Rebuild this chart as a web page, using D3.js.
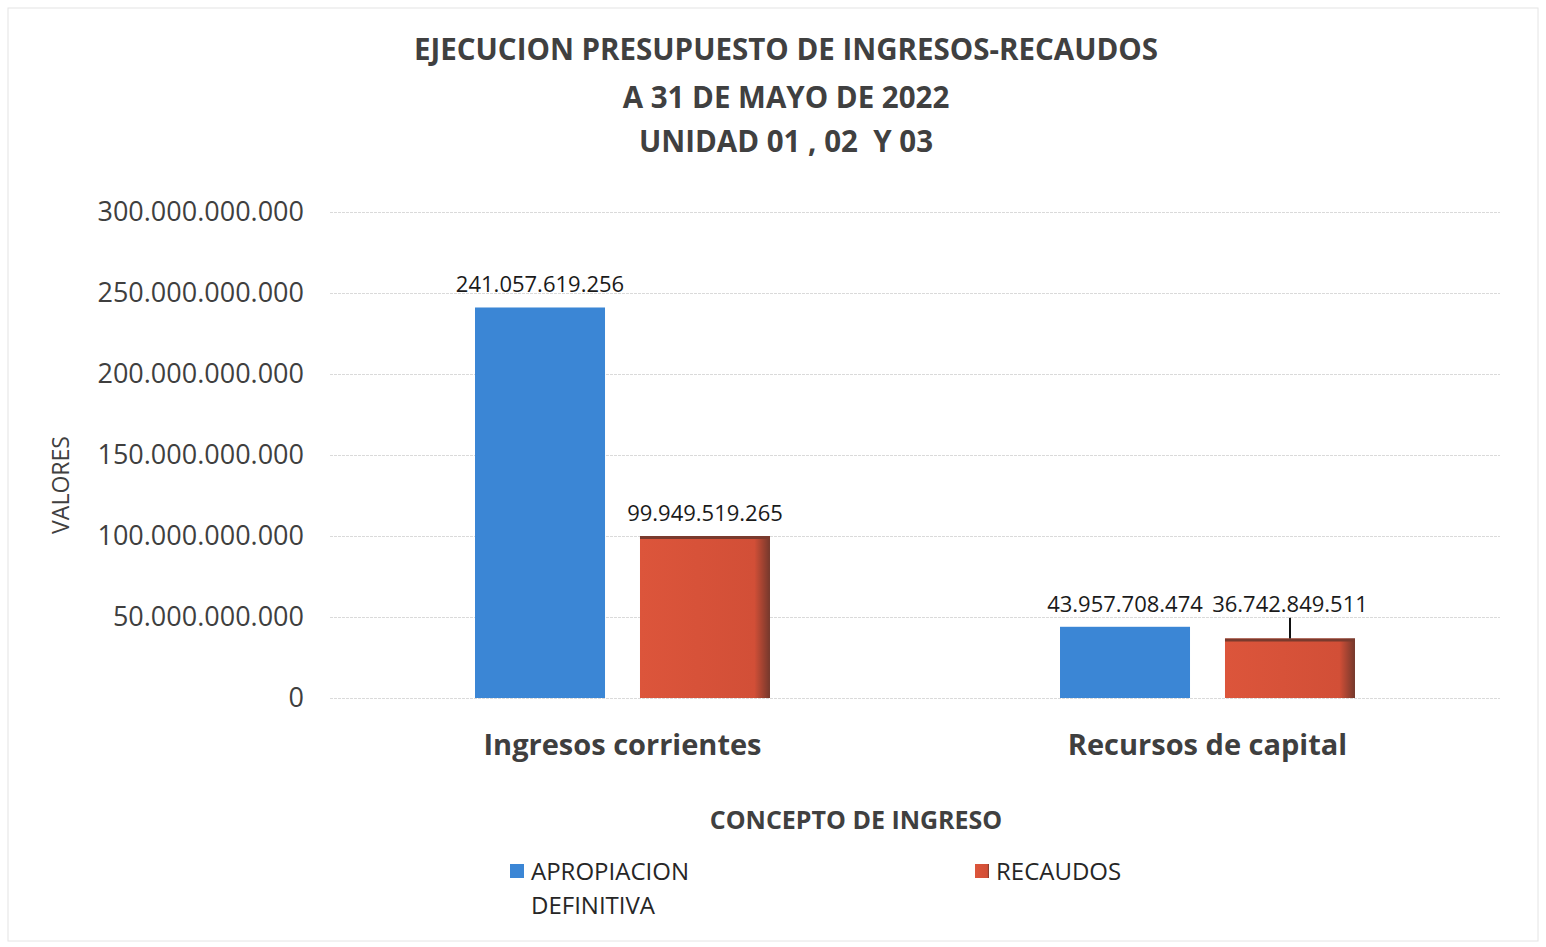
<!DOCTYPE html>
<html lang="es">
<head>
    <meta charset="UTF-8">
    <title>Ejecucion presupuesto</title>
    <script src="https://d3js.org/d3.v7.min.js"></script>
    <style>
        body { margin: 0; background: #fff; }
        text { font-family: "Open Sans", "Noto Sans", sans-serif; }
    </style>
</head>
<body>
    <svg width="1546" height="947"></svg>
    <script>
        // chart data
        const categories = ["Ingresos corrientes", "Recursos de capital"];
        const seriesNames = ["APROPIACION DEFINITIVA", "RECAUDOS"];
        const apropiacion = [241057619256, 43957708474];
        const recaudos = [99949519265, 36742849511];
        const yTicks = [0, 50e9, 100e9, 150e9, 200e9, 250e9, 300e9];
        const titleLines = ["EJECUCION PRESUPUESTO DE INGRESOS-RECAUDOS", "A 31 DE MAYO DE 2022", "UNIDAD 01 , 02  Y 03"];

        const colors = ["#3b86d5", "#d8513a"];
        const width = 1546, height = 947;
        const margin = {top: 212, right: 46, bottom: 249, left: 330};

        const svg = d3.select("svg");

        // outer frame
        svg.append("rect")
            .attr("x", 8).attr("y", 8)
            .attr("width", width - 16).attr("height", height - 14)
            .attr("fill", "none").attr("stroke", "#e4e4e4");

        const es = d3.formatLocale({decimal: ",", thousands: ".", grouping: [3], currency: ["$", ""]});
        const fmt = es.format(",.0f");

        const x0 = d3.scaleBand()
            .domain(categories)
            .range([margin.left, width - margin.right]);

        const x1 = d3.scaleBand()
            .domain(seriesNames)
            .range([0, x0.bandwidth()])
            .paddingInner(0.212)
            .paddingOuter(0.879);

        const y = d3.scaleLinear()
            .domain([0, 300e9])
            .range([height - margin.bottom, margin.top]);

        // gradient for the red bars (darker right edge)
        const defs = svg.append("defs");
        const gr = defs.append("linearGradient").attr("id", "redShade");
        gr.append("stop").attr("offset", "0%").attr("stop-color", "#dc553b");
        gr.append("stop").attr("offset", "88%").attr("stop-color", "#d24f37");
        gr.append("stop").attr("offset", "100%").attr("stop-color", "#74382c");

        // gridlines
        svg.append("g")
            .attr("transform", `translate(${margin.left},0)`)
            .call(d3.axisLeft(y).tickValues(yTicks).tickSize(-(width - margin.left - margin.right)).tickFormat(""))
            .call(g => g.select(".domain").remove())
            .call(g => g.selectAll("line").attr("stroke", "#dadada").attr("stroke-dasharray", "3,1"));

        // y axis labels
        svg.append("g")
            .attr("transform", `translate(${margin.left - 23},0)`)
            .call(d3.axisLeft(y).tickValues(yTicks).tickSize(0).tickFormat(fmt))
            .call(g => g.select(".domain").remove())
            .call(g => g.selectAll("text")
                .attr("fill", "#3f3f3f")
                .style("font-size", "27px")
                .attr("dx", 0));

        // bars
        const rows = categories.map((c, i) => ({cat: c, vals: [apropiacion[i], recaudos[i]]}));
        const groups = svg.append("g").selectAll("g")
            .data(rows)
            .join("g")
            .attr("transform", d => `translate(${x0(d.cat)},0)`);

        groups.selectAll("rect")
            .data(d => d.vals.map((v, j) => ({name: seriesNames[j], v: v, j: j})))
            .join("rect")
            .attr("x", d => x1(d.name))
            .attr("y", d => y(d.v))
            .attr("width", x1.bandwidth())
            .attr("height", d => y(0) - y(d.v))
            .attr("fill", d => d.j === 0 ? colors[0] : "url(#redShade)");

        // top dark edge on red bars
        groups.selectAll("line.edge")
            .data(d => [{name: seriesNames[1], v: d.vals[1]}])
            .join("line")
            .attr("class", "edge")
            .attr("x1", d => x1(d.name))
            .attr("x2", d => x1(d.name) + x1.bandwidth())
            .attr("y1", d => y(d.v) + 1.5)
            .attr("y2", d => y(d.v) + 1.5)
            .attr("stroke", "#7a3a2d").attr("stroke-width", 3);

        // value labels (aligned when two labels would collide)
        groups.each(function(d) {
            const g = d3.select(this);
            const tops = d.vals.map(v => y(v) - 15);
            const close = Math.abs(tops[0] - tops[1]) < 30;
            d.vals.forEach((v, j) => {
                const name = seriesNames[j];
                const cx = x1(name) + x1.bandwidth() / 2;
                const ly = close ? Math.min(...tops) : tops[j];
                g.append("text")
                    .attr("x", cx).attr("y", ly)
                    .attr("text-anchor", "middle")
                    .attr("fill", "#1a1a1a")
                    .style("font-size", "22px")
                    .text(fmt(v));
                if (close && ly < tops[j] - 4) {
                    g.append("line")
                        .attr("x1", cx).attr("x2", cx)
                        .attr("y1", ly + 6).attr("y2", y(v))
                        .attr("stroke", "#111").attr("stroke-width", 2);
                }
            });
        });

        // category labels
        svg.append("g")
            .selectAll("text")
            .data(categories)
            .join("text")
            .attr("x", d => x0(d) + x0.bandwidth() / 2)
            .attr("y", 755)
            .attr("text-anchor", "middle")
            .attr("fill", "#3f3f3f")
            .style("font-size", "29px")
            .style("font-weight", "bold")
            .text(d => d);

        // titles
        svg.append("g")
            .selectAll("text")
            .data(titleLines)
            .join("text")
            .attr("x", 786)
            .attr("y", (d, i) => [60, 108, 152][i])
            .attr("text-anchor", "middle")
            .attr("fill", "#404040")
            .style("font-size", "29.5px")
            .style("font-weight", "bold")
            .style("white-space", "pre")
            .text(d => d);

        // axis titles
        svg.append("text")
            .attr("transform", "translate(69,485) rotate(-90)")
            .attr("text-anchor", "middle")
            .attr("fill", "#404040")
            .style("font-size", "23px")
            .text("VALORES");

        svg.append("text")
            .attr("x", 856).attr("y", 829)
            .attr("text-anchor", "middle")
            .attr("fill", "#404040")
            .style("font-size", "25px")
            .style("font-weight", "bold")
            .text("CONCEPTO DE INGRESO");

        // legend
        const legendX = [510, 975];
        const legend = svg.append("g").selectAll("g")
            .data(seriesNames)
            .join("g")
            .attr("transform", (d, i) => `translate(${legendX[i]},864)`);
        legend.append("rect")
            .attr("width", 14).attr("height", 14)
            .attr("fill", (d, i) => i === 0 ? colors[0] : "url(#redShade)");
        legend.append("text")
            .attr("x", 21).attr("y", 16)
            .attr("fill", "#262626")
            .style("font-size", "24px")
            .each(function(d) {
                const words = d.split(" ");
                d3.select(this).selectAll("tspan")
                    .data(words)
                    .join("tspan")
                    .attr("x", 21)
                    .attr("dy", (w, k) => k === 0 ? 0 : 34)
                    .text(w => w);
            });
    </script>
</body>
</html>
